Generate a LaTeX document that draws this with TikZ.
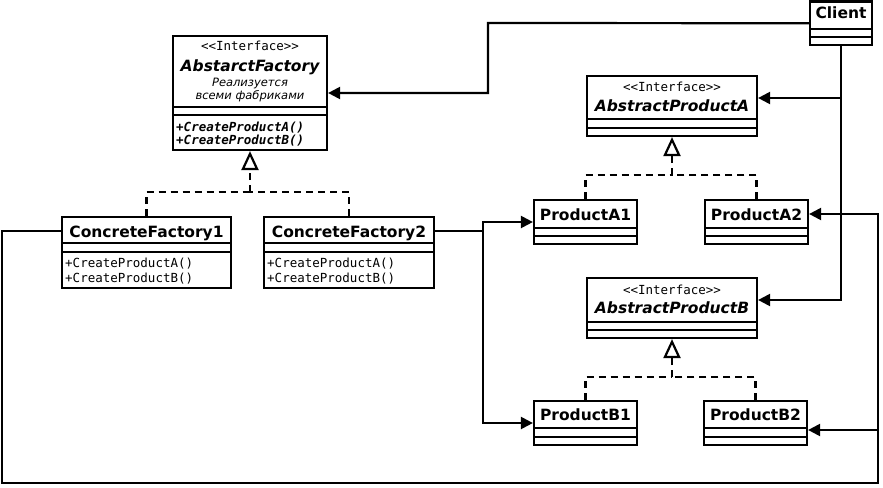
\documentclass[tikz,border=0pt]{standalone}
\usepackage{fontspec}
\setmainfont{DejaVu Sans}
\newfontfamily\monof{DejaVu Sans Mono}
\usetikzlibrary{arrows.meta,fit,calc}
\tikzset{
  cls/.style={draw, line width=2.2pt, fill=white, inner sep=0pt},
  sep/.style={line width=2.2pt},
  assoc/.style={line width=2.2pt, -{Triangle[length=12pt,width=12pt]}},
  conn/.style={line width=2.2pt},
  realize/.style={line width=2.2pt, dash pattern=on 7pt off 5pt},
  gen/.style={line width=2.2pt, dash pattern=on 7pt off 5pt, -{Triangle[open,length=19pt,width=17pt,fill=white]}},
  cname/.style={font=\fontsize{15.5}{18}\selectfont\bfseries, anchor=base, inner sep=0pt},
  iname/.style={font=\fontsize{15.5}{18}\selectfont\bfseries\itshape, anchor=base, inner sep=0pt},
  stereo/.style={font=\fontsize{12.5}{14}\selectfont\monof, anchor=base, inner sep=0pt},
  note/.style={font=\fontsize{11.5}{13}\selectfont\itshape, anchor=base, inner sep=0pt},
  meth/.style={font=\fontsize{12.5}{15}\selectfont\monof, anchor=base west, inner sep=0pt},
  imeth/.style={font=\fontsize{12.5}{15}\selectfont\monof\bfseries\itshape, anchor=base west, inner sep=0pt},
}
\begin{document}
\begin{tikzpicture}[x=1pt,y=-1pt]
\useasboundingbox (0,0) rectangle (883,487);

% ---- junction points of connectors ----
\coordinate (c1) at (488,23);
\coordinate (j1) at (483,231);
\coordinate (l1) at (2,231);
\coordinate (l2) at (2,483);
\coordinate (l3) at (878,483);
\coordinate (l4) at (878,430);
\coordinate (jf) at (250,192);
\coordinate (ja) at (672,175);
\coordinate (jb) at (672,377);

% ---- classes ----
\node[cls, fit={(173,36) (327,150)}] (factory) {};
\draw[sep] (173,107) -- (327,107);
\draw[sep] (173,115) -- (327,115);
\node[stereo] (fst) at (250,51) {<{}<Interface>{}>};
\node[iname] (fnm) at (250,71) {AbstarctFactory};
\node[note] (fn1) at (250,86) {Реализуется};
\node[note] (fn2) at (250,99.5) {всеми фабриками};
\node[imeth] (fm1) at (176,131) {+CreateProductA()};
\node[imeth] (fm2) at (176,144) {+CreateProductB()};

\node[cls, fit={(62,217) (231,288)}] (cf1) {};
\draw[sep] (62,243) -- (231,243);
\draw[sep] (62,252) -- (231,252);
\node[cname] (cf1n) at (146.5,237) {ConcreteFactory1};
\node[meth] (cf1a) at (65,267) {+CreateProductA()};
\node[meth] (cf1b) at (65,282) {+CreateProductB()};

\node[cls, fit={(264,217) (434,288)}] (cf2) {};
\draw[sep] (264,243) -- (434,243);
\draw[sep] (264,252) -- (434,252);
\node[cname] (cf2n) at (349,237) {ConcreteFactory2};
\node[meth] (cf2a) at (267,267) {+CreateProductA()};
\node[meth] (cf2b) at (267,282) {+CreateProductB()};

\node[cls, fit={(810,1.5) (872,45)}] (client) {};
\draw[sep] (810,29) -- (872,29);
\draw[sep] (810,37) -- (872,37);
\node[cname] (cln) at (841,19) {Client};

\node[cls, fit={(587,76) (757,136)}] (apA) {};
\draw[sep] (587,119) -- (757,119);
\draw[sep] (587,128) -- (757,128);
\node[stereo] (aps) at (672,92) {<{}<Interface>{}>};
\node[iname] (apn) at (672,111) {AbstractProductA};

\node[cls, fit={(587,278) (757,338)}] (apB) {};
\draw[sep] (587,322) -- (757,322);
\draw[sep] (587,330) -- (757,330);
\node[stereo] (bps) at (672,294) {<{}<Interface>{}>};
\node[iname] (bpn) at (672,313) {AbstractProductB};

\node[cls, fit={(534,200) (637,244)}] (pA1) {};
\draw[sep] (534,228) -- (637,228);
\draw[sep] (534,236) -- (637,236);
\node[cname] (pA1n) at (585.5,220) {ProductA1};

\node[cls, fit={(705,200) (808,244)}] (pA2) {};
\draw[sep] (705,228) -- (808,228);
\draw[sep] (705,236) -- (808,236);
\node[cname] (pA2n) at (756.5,220) {ProductA2};

\node[cls, fit={(534,401) (637,445)}] (pB1) {};
\draw[sep] (534,428) -- (637,428);
\draw[sep] (534,437) -- (637,437);
\node[cname] (pB1n) at (585.5,420) {ProductB1};

\node[cls, fit={(704,401) (807,445)}] (pB2) {};
\draw[sep] (704,428) -- (807,428);
\draw[sep] (704,437) -- (807,437);
\node[cname] (pB2n) at (755.5,420) {ProductB2};

% ---- associations ----
\draw[assoc] (client.west) -- (c1) |- (factory.east);
\draw[assoc] (client.south) |- ([yshift=8pt]apA.east);
\draw[assoc] (client.south) |- ([yshift=8pt]apB.east);
\draw[assoc] ([yshift=21.5pt]cf2.east) -- (j1) |- (pA1.west);
\draw[assoc] (j1) |- (pB1.west);
\draw[conn] ([yshift=21.5pt]cf1.west) -- (l1) -- (l2) -- (l3) -- (l4);
\draw[assoc] (l4) |- ([yshift=8pt]pA2.east);
\draw[assoc] (l4) -- (pB2.east |- l4);

% ---- realizations ----
\draw[realize] (cf1.north) |- (jf);
\draw[realize] (cf2.north) |- (jf);
\draw[gen] (jf) -- (factory.south);
\draw[realize] (pA1.north) |- (ja);
\draw[realize] (pA2.north) |- (ja);
\draw[gen] (ja) -- (apA.south);
\draw[realize] (pB1.north) |- (jb);
\draw[realize] (pB2.north) |- (jb);
\draw[gen] (jb) -- (apB.south);
\end{tikzpicture}
\end{document}
